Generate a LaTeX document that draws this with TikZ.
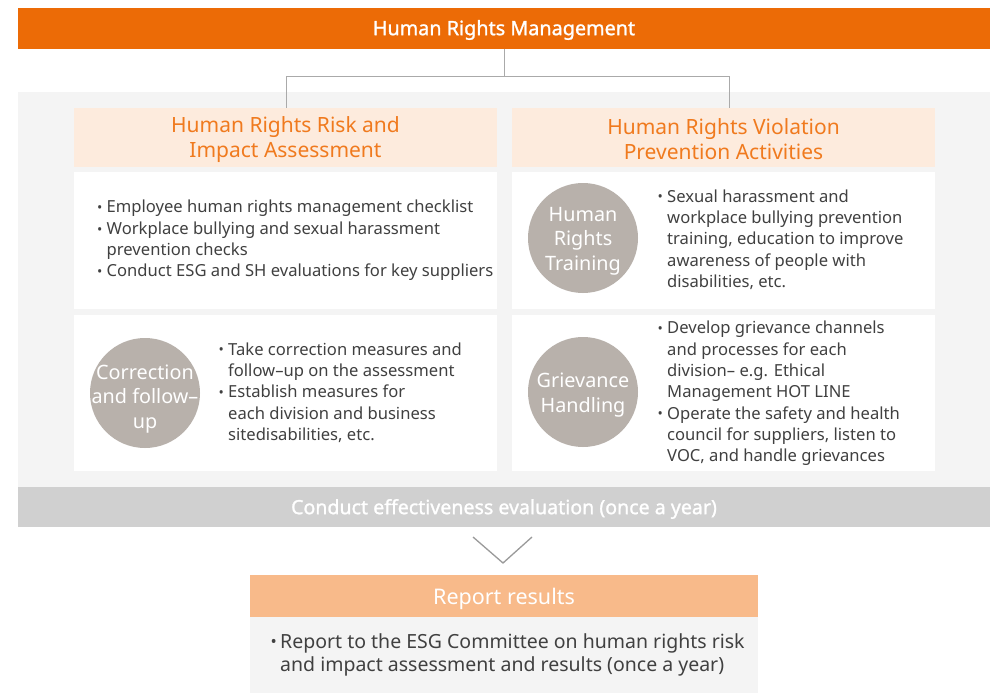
\documentclass[tikz,border=0pt]{standalone}
\usepackage{fontspec}
\setmainfont{Noto Sans}
\newfontfamily\bfont[FakeBold=1.3]{Noto Sans}
\usetikzlibrary{calc}
\definecolor{orangebar}{HTML}{EC6B06}
\definecolor{headbg}{HTML}{FDEBDD}
\definecolor{headtx}{HTML}{F07A1E}
\definecolor{panelbg}{HTML}{F4F4F4}
\definecolor{circbg}{HTML}{B8B1AB}
\definecolor{bodytx}{HTML}{404040}
\definecolor{graybar}{HTML}{D0D0D0}
\definecolor{repbg}{HTML}{F8BA8A}
\definecolor{linegray}{HTML}{AAAAAA}
\definecolor{chevgray}{HTML}{9A9A9A}
\newcommand\bul{\makebox[12.5pt][l]{\hspace{3pt}\raisebox{0.01em}{\scalebox{0.85}{•}}}}
\newcommand\ind{\hspace*{12.5pt}}
\tikzset{
  box/.style={inner sep=0, outer sep=0, draw=none},
  headbox/.style={box, fill=headbg, minimum width=423, minimum height=59},
  headtext/.style={inner sep=0, text=headtx, align=center, font=\fontsize{21}{25}\selectfont},
  whitebox/.style={box, fill=white, minimum width=423},
  circ/.style={circle, inner sep=0, fill=circbg, minimum size=110},
  circtext/.style={inner sep=0, text=white, align=center, font=\fontsize{19.8}{24.5}\selectfont},
  bodytext/.style={inner sep=0, anchor=west, align=left, text=bodytx, font=\fontsize{16.6}{21.3}\selectfont},
  conn/.style={draw=linegray, line width=1pt},
}
\begin{document}
\begin{tikzpicture}[x=1pt,y=-1pt]
\useasboundingbox (0,0) rectangle (997,693);
\fill[white] (0,0) rectangle (997,693);
% background panel
\node[box, fill=panelbg, minimum width=972, minimum height=395] (panel) at (504,289.5) {};
% top bar
\node[box, fill=orangebar, minimum width=972, minimum height=41] (top) at (504,28.5) {};
\node[inner sep=0, text=white, font=\bfont\fontsize{19.8}{22}\selectfont] (toptx) at (504,30) {Human Rights Management};
% headers
\node[headbox] (hL) at (285.5,137.5) {};
\node[headbox] (hR) at (723.5,137.5) {};
\node[headtext] (hLt) at (285.5,140) {Human Rights Risk and\\Impact Assessment};
\node[headtext] (hRt) at (723.5,139) {Human Rights Violation\\Prevention Activities};
% connectors
\coordinate (split) at ($(top.south)+(0,28)$);
\draw[conn] (top.south) -- (split);
\draw[conn] (split) -| ([xshift=1pt]hL.north);
\draw[conn] (split) -| ([xshift=6pt]hR.north);
% white boxes
\node[whitebox, minimum height=137] (L1) at (285.5,240.5) {};
\node[whitebox, minimum height=156] (L2) at (285.5,393) {};
\node[whitebox, minimum height=137] (R1) at (723.5,240.5) {};
\node[whitebox, minimum height=156] (R2) at (723.5,393) {};
% circles
\node[circ] (cL2) at (145,393) {};
\node[circ] (cR1) at (583,238) {};
\node[circ] (cR2) at (583,392) {};
\node[circtext] (cL2t) at ($(cL2.center)+(0,6)$) {Correction\\and follow–\\up};
\node[circtext] (cR1t) at ($(cR1.center)+(0,3)$) {Human\\Rights\\Training};
\node[circtext] (cR2t) at ($(cR2.center)+(0,3)$) {Grievance\\Handling};
% texts
\node[bodytext] (tL1) at (94,240.5) {\bul Employee human rights management checklist\\
\bul Workplace bullying and sexual harassment\\
\ind prevention checks\\
\bul Conduct ESG and SH evaluations for key suppliers};
\node[bodytext] (tL2) at (215.5,392.5) {\bul Take correction measures and\\
\ind follow–up on the assessment\\
\bul Establish measures for\\
\ind each division and business\\
\ind sitedisabilities, etc.};
\node[bodytext] (tR1) at (654.5,239.5) {\bul Sexual harassment and\\
\ind workplace bullying prevention\\
\ind training, education to improve\\
\ind awareness of people with\\
\ind disabilities, etc.};
\node[bodytext] (tR2) at (654.5,393.5) {\bul Develop grievance channels\\
\ind and processes for each\\
\ind division– e.g. Ethical\\
\ind Management HOT LINE\\
\bul Operate the safety and health\\
\ind council for suppliers, listen to\\
\ind VOC, and handle grievances};
% gray bar
\node[box, fill=graybar, minimum width=972, minimum height=40] (gbar) at (504,507) {};
\node[inner sep=0, text=white, font=\bfont\fontsize{19.6}{22}\selectfont] (gbart) at (504,509) {Conduct effectiveness evaluation (once a year)};
% chevron
\draw[draw=chevgray, line width=1.3pt] ($(gbar.south)+(-31,10)$) -- ($(gbar.south)+(-1,36)$) -- ($(gbar.south)+(28,10)$);
% report
\node[box, fill=repbg, minimum width=508, minimum height=42] (rep) at (504,596) {};
\node[inner sep=0, text=white, font=\fontsize{21.5}{26}\selectfont] (rept) at (504,599) {Report results};
\node[box, fill=panelbg, minimum width=508, minimum height=76, anchor=north] (repb) at (rep.south) {};
\node[bodytext, font=\fontsize{19.5}{23}\selectfont] (trep) at (267.5,654.5) {\bul Report to the ESG Committee on human rights risk\\
\ind and impact assessment and results (once a year)};
\end{tikzpicture}
\end{document}
